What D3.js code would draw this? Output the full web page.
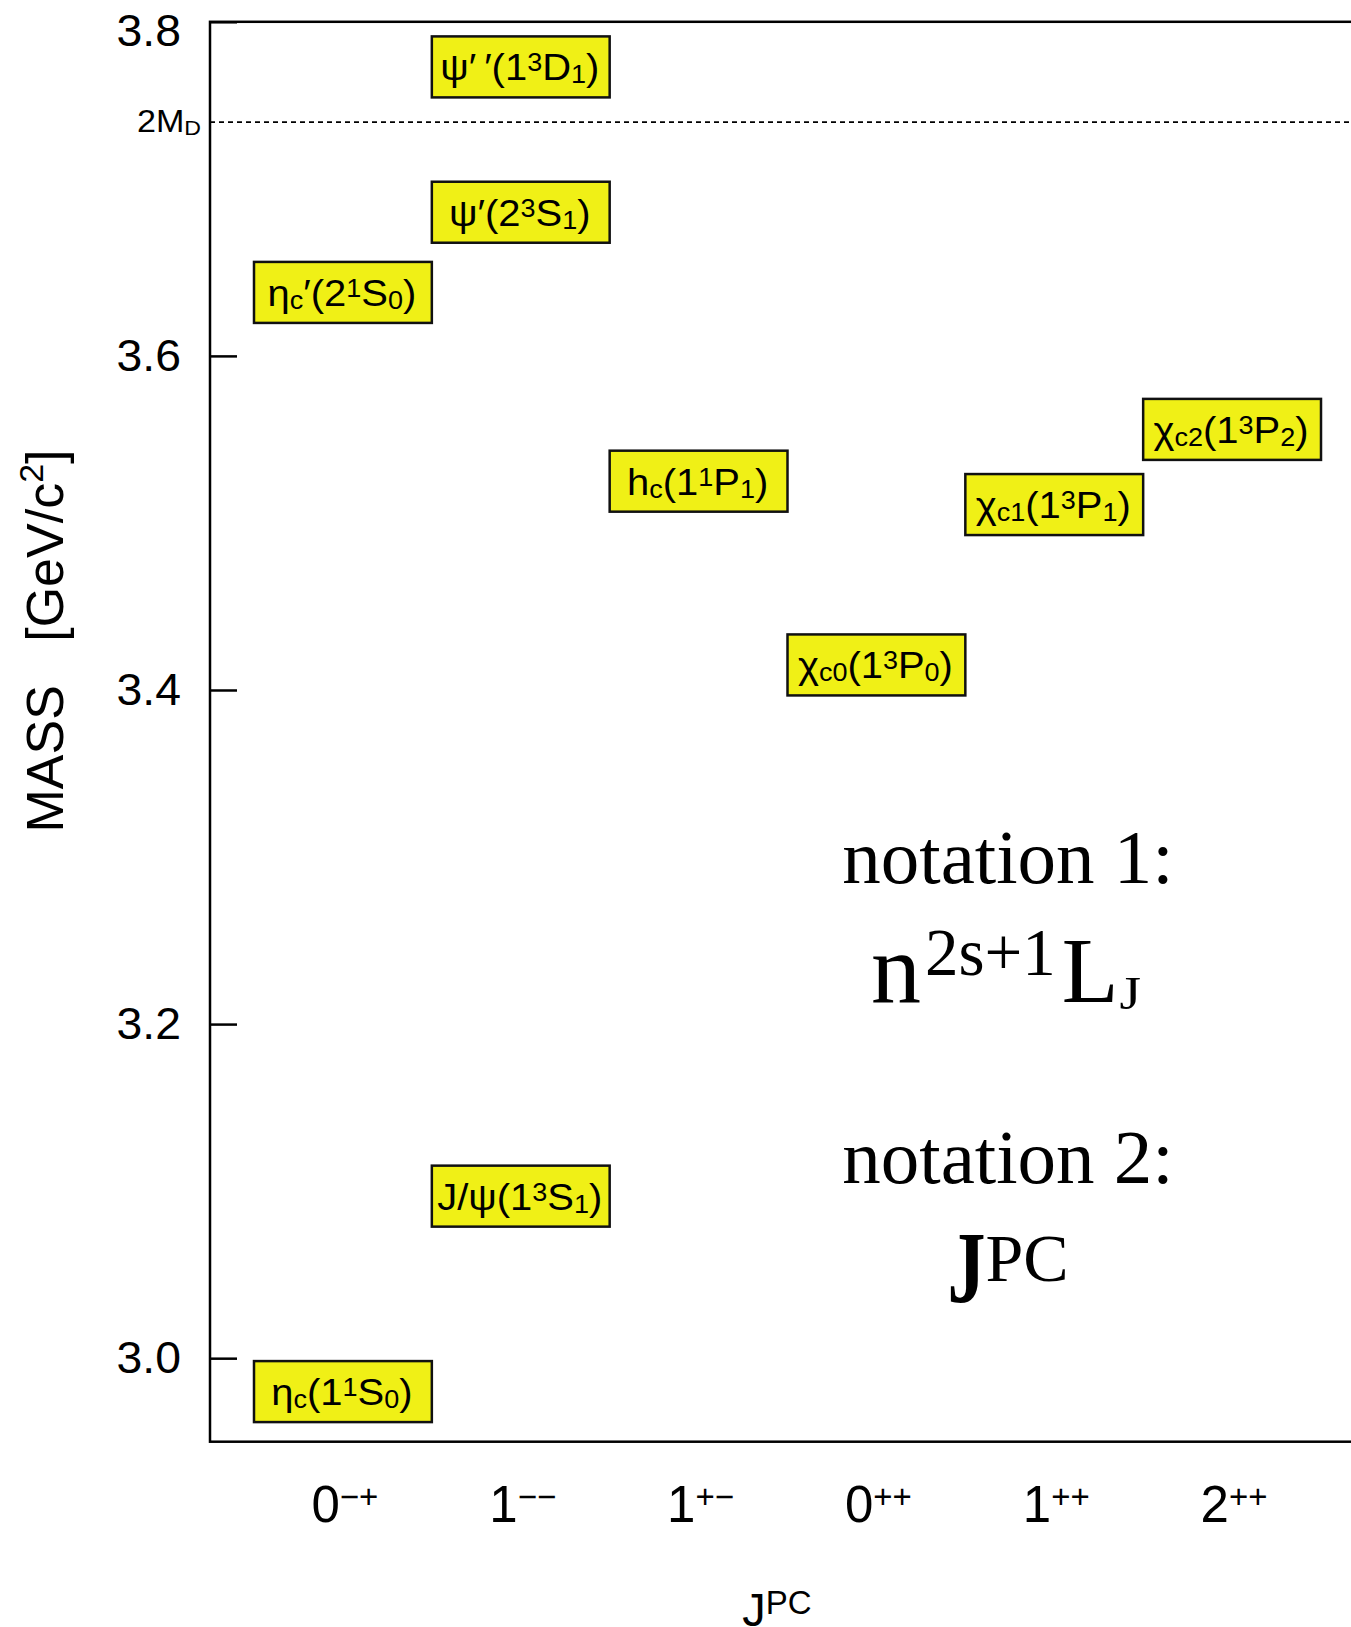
<!DOCTYPE html>
<html><head><meta charset="utf-8">
<script src="https://cdn.jsdelivr.net/npm/d3@7/dist/d3.min.js"></script>
<style>html,body{margin:0;padding:0;background:#fff;overflow:hidden}</style>
</head><body>
<svg id="chart" width="1351" height="1627"></svg>
<script>
// ---------------- data ----------------
const categories = ["0-+", "1--", "1+-", "0++", "1++", "2++"];
const catMain = ["0", "1", "1", "0", "1", "2"];
const catSup = ["\u2212+", "\u2212\u2212", "+\u2212", "++", "++", "++"];

const stateLabels = [
  "η_{c}(1^{1}S_{0})",
  "η_{c}′(2^{1}S_{0})",
  "J/ψ(1^{3}S_{1})",
  "ψ′(2^{3}S_{1})",
  "ψ′\u2009′(1^{3}D_{1})",
  "h_{c}(1^{1}P_{1})",
  "χ_{c0}(1^{3}P_{0})",
  "χ_{c1}(1^{3}P_{1})",
  "χ_{c2}(1^{3}P_{2})"
];
const stateCats = ["0-+", "0-+", "1--", "1--", "1--", "1+-", "0++", "1++", "2++"];
const stateMasses = [2.980, 3.638, 3.097, 3.686, 3.773, 3.525, 3.415, 3.511, 3.556];

const yTicks = [3.0, 3.2, 3.4, 3.6, 3.8];
const yDomain = [2.95, 3.8];
const thresholdMass = 3.74;
const thresholdLabel = "2M_{D}";

// ---------------- layout ----------------
const svg = d3.select("#chart");
const X0 = 210, X1 = 1365, Y0 = 21.8, Y1 = 1441.7;
const y = d3.scaleLinear().domain(yDomain).range([Y1, Y0]);
const x = d3.scaleBand().domain(categories).range([254, 1321]).padding(0);

const SANS = "'Liberation Sans', Arial, Helvetica, sans-serif";
const SERIF = "'Liberation Serif', 'Times New Roman', serif";

function parse(str, o) {
  const segs = [];
  const re = /(_|\^)\{([^}]*)\}|([^_^]+)/g;
  let m;
  while ((m = re.exec(str)) !== null) {
    if (m[3] !== undefined) segs.push({t: m[3], fs: o.fs, dy: 0, sx: o.sx, ff: o.ff});
    else if (m[1] === "_") segs.push({t: m[2], fs: o.sfs, dy: o.subDy, sx: o.sx, ff: o.ff});
    else segs.push({t: m[2], fs: o.sfs, dy: o.supDy, sx: o.sx, ff: o.ff});
  }
  return segs;
}

function drawRich(parent, segs, px, py, anchor) {
  const g = parent.append("g");
  let cx = 0;
  segs.forEach(s => {
    const sx = s.sx || 1, sy = s.sy || 1;
    const t = g.append("text").text(s.t)
      .attr("font-size", s.fs)
      .attr("font-family", s.ff || SANS)
      .attr("font-weight", s.fw || "normal")
      .attr("fill", "#000")
      .attr("transform", `translate(${cx},${s.dy || 0}) scale(${sx},${sy})`);
    cx += t.node().getComputedTextLength() * sx + (s.gap || 0);
  });
  const off = anchor === "middle" ? -cx / 2 : anchor === "end" ? -cx : 0;
  g.attr("transform", `translate(${px + off},${py})`);
  return g;
}

// frame
svg.append("rect").attr("x", X0).attr("y", Y0).attr("width", X1 - X0).attr("height", Y1 - Y0)
  .attr("fill", "none").attr("stroke", "#000").attr("stroke-width", 2.5);

// y ticks (inward)
const yAxis = d3.axisRight(y).tickValues(yTicks).tickSize(27).tickFormat("");
const ga = svg.append("g").attr("transform", `translate(${X0},0)`).call(yAxis);
ga.select(".domain").remove();
ga.selectAll(".tick line").attr("stroke", "#000").attr("stroke-width", 2.5);

yTicks.forEach(v => {
  const by = Math.max(y(v) + 15, 46);
  drawRich(svg, [{t: d3.format(".1f")(v), fs: 45, sx: 1.03}], 181, by, "end");
});

// threshold dashed line
svg.append("line").attr("x1", X0).attr("x2", X1).attr("y1", y(thresholdMass)).attr("y2", y(thresholdMass))
  .attr("stroke", "#000").attr("stroke-width", 1.8).attr("stroke-dasharray", "5,4");
drawRich(svg, parse(thresholdLabel, {fs: 31, sfs: 21, subDy: 3, supDy: -8, sx: 1.1, ff: SANS}),
  201, y(thresholdMass) + 10, "end");

// state boxes
const boxH = 61;
const states = stateLabels.map((l, i) => ({label: l, cat: stateCats[i], m: stateMasses[i]}));
const gs = svg.append("g").selectAll("g").data(states).join("g");
gs.append("rect")
  .attr("x", d => x(d.cat)).attr("width", x.bandwidth())
  .attr("y", d => y(d.m) - boxH / 2).attr("height", boxH)
  .attr("fill", "#f0f016").attr("stroke", "#111").attr("stroke-width", 2.5);
gs.each(function(d) {
  drawRich(d3.select(this), parse(d.label, {fs: 37, sfs: 25, subDy: 3, supDy: -9, sx: 1.08, ff: SANS}),
    x(d.cat) + x.bandwidth() / 2 - 1, y(d.m) + 13.5, "middle");
});

// x tick labels
categories.forEach((c, i) => {
  drawRich(svg, [{t: catMain[i], fs: 51}, {t: catSup[i], fs: 33, dy: -14}],
    x(c) + x.bandwidth() / 2 + 2, 1522, "middle");
});

// x title
drawRich(svg, [{t: "J", fs: 47}, {t: "PC", fs: 33, dy: -12}], 777, 1626, "middle");

// y title
const yt = svg.append("g").attr("transform", "translate(63,641) rotate(-90)");
drawRich(yt, [{t: "MASS\u00a0\u00a0\u00a0[GeV/c", fs: 52}, {t: "2", fs: 34, dy: -20}, {t: "]", fs: 52}], 0, 0, "middle");

// notation text
drawRich(svg, [{t: "notation 1:", fs: 77, ff: SERIF}], 1008, 883, "middle");
drawRich(svg, [
  {t: "n", fs: 100, ff: SERIF, gap: 4},
  {t: "2s+1", fs: 67, dy: -27, ff: SERIF, gap: 6},
  {t: "L", fs: 93, ff: SERIF, gap: 1},
  {t: "J", fs: 46, dy: 7, sx: 1.2, ff: SERIF}
], 1006, 1002, "middle");
drawRich(svg, [{t: "notation 2:", fs: 77, ff: SERIF}], 1008, 1183, "middle");
drawRich(svg, [
  {t: "J", fs: 76, fw: "bold", sy: 1.35, ff: SERIF},
  {t: "PC", fs: 68, dy: -21, ff: SERIF}
], 1008, 1302, "middle");
</script>
</body></html>
